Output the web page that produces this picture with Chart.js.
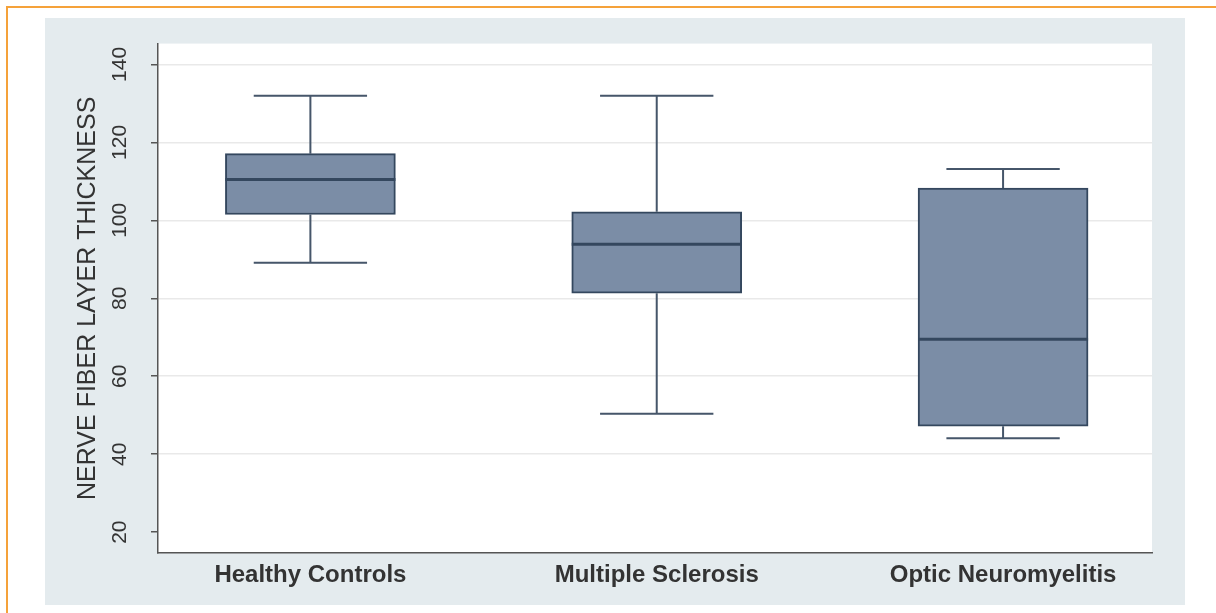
<!DOCTYPE html>
<html>
<head>
<meta charset="utf-8">
<script src="https://cdn.jsdelivr.net/npm/chart.js@4"></script>
<style>
  html, body { margin: 0; padding: 0; background: #fff; }
  body { width: 1216px; height: 613px; position: relative; overflow: hidden; }
  #frame {
    position: absolute; left: 6px; top: 6px; right: 0; bottom: 0;
    border-top: 2px solid #f5a23a; border-left: 2px solid #f5a23a;
  }
  #panel {
    position: absolute; left: 45px; top: 18px; width: 1140px; height: 587px;
    background: #e4ebee;
  }
</style>
</head>
<body>
<div id="frame"></div>
<div id="panel"><canvas id="box_plot" width="1140" height="587"></canvas></div>
<script>
'use strict';

// groups on the x axis
const categories = ['Healthy Controls', 'Multiple Sclerosis', 'Optic Neuromyelitis'];

// box plot statistics
const whiskerLow  = [89.1, 50.4, 44.1];
const q1          = [101.5, 81.3, 47.2];
const median      = [110.5, 93.9, 69.5];
const q3          = [117.1, 102.2, 108.3];
const whiskerHigh = [132.0, 132.0, 113.2];

// y axis ticks
const yTicks = [20, 40, 60, 80, 100, 120, 140];

const BOX_FILL = '#7b8da6';
const BOX_LINE = '#34475e';
const WHISKER = '#46566a';

// white plot region
const plotBackground = {
    id: 'plotBackground',
    beforeDraw(chart) {
        const { ctx, chartArea: a } = chart;
        ctx.save();
        ctx.fillStyle = '#ffffff';
        ctx.fillRect(a.left, a.top, a.right - a.left, a.bottom - a.top);
        ctx.restore();
    }
};

// whiskers, caps and medians, placed through the scales
const boxExtras = {
    id: 'boxExtras',
    afterDatasetsDraw(chart) {
        const { ctx, scales: { y } } = chart;
        const meta = chart.getDatasetMeta(0);
        ctx.save();
        meta.data.forEach((bar, i) => {
            const cx = bar.x;
            const half = bar.width / 2;
            const cap = half * 2 / 3;
            const yHi = y.getPixelForValue(whiskerHigh[i]);
            const yLo = y.getPixelForValue(whiskerLow[i]);
            const yQ3 = y.getPixelForValue(q3[i]);
            const yQ1 = y.getPixelForValue(q1[i]);
            const yMed = y.getPixelForValue(median[i]);

            ctx.strokeStyle = WHISKER;
            ctx.lineWidth = 2;
            ctx.beginPath();
            ctx.moveTo(cx, yQ3); ctx.lineTo(cx, yHi);
            ctx.moveTo(cx, yQ1); ctx.lineTo(cx, yLo);
            ctx.moveTo(cx - cap, yHi); ctx.lineTo(cx + cap, yHi);
            ctx.moveTo(cx - cap, yLo); ctx.lineTo(cx + cap, yLo);
            ctx.stroke();

            ctx.strokeStyle = BOX_LINE;
            ctx.lineWidth = 3;
            ctx.beginPath();
            ctx.moveTo(cx - half, yMed); ctx.lineTo(cx + half, yMed);
            ctx.stroke();
        });
        ctx.restore();
    }
};

const boxData = categories.map((c, i) => ({ x: i + 1, y: [q1[i], q3[i]] }));

const config = {
    type: 'bar',
    data: {
        datasets: [{
            data: boxData,
            backgroundColor: BOX_FILL,
            borderColor: BOX_LINE,
            borderWidth: 2,
            borderSkipped: false,
            barThickness: 170
        }]
    },
    options: {
        responsive: false,
        animation: false,
        events: [],
        layout: {
            padding: { left: 28, top: 22, right: 33, bottom: 0 }
        },
        plugins: {
            legend: { display: false },
            tooltip: { enabled: false }
        },
        scales: {
            x: {
                type: 'linear',
                offset: false,
                min: 0.56,
                max: 3.43,
                afterBuildTicks: (scale) => {
                    scale.ticks = categories.map((c, i) => ({ value: i + 1 }));
                },
                afterFit: (scale) => { scale.height = 52; },
                grid: { display: false, drawTicks: false, offset: false },
                border: { display: true, color: '#555', width: 1.5 },
                ticks: {
                    padding: 8,
                    color: '#333',
                    font: { family: 'Liberation Sans', size: 24, weight: 'bold' },
                    callback: (v) => categories[v - 1]
                }
            },
            y: {
                min: 14.65,
                max: 145.35,
                afterBuildTicks: (scale) => {
                    scale.ticks = yTicks.map(v => ({ value: v }));
                },
                afterFit: (scale) => { scale.width = 85; },
                grid: {
                    color: (ctx) => (ctx.tick && ctx.tick.value === 20) ? 'rgba(0,0,0,0)' : '#e9e9e9',
                    tickColor: '#555',
                    tickLength: 7,
                    lineWidth: 1.5
                },
                border: { display: true, color: '#555', width: 1.5 },
                ticks: {
                    minRotation: 90,
                    maxRotation: 90,
                    crossAlign: 'center',
                    padding: 13,
                    color: '#333',
                    font: { family: 'Liberation Sans', size: 21 }
                },
                title: {
                    display: true,
                    text: 'NERVE FIBER LAYER THICKNESS',
                    color: '#333',
                    padding: 0,
                    font: { family: 'Liberation Sans', size: 25 }
                }
            }
        }
    },
    plugins: [plotBackground, boxExtras]
};

new Chart(document.getElementById('box_plot'), config);
</script>
</body>
</html>
